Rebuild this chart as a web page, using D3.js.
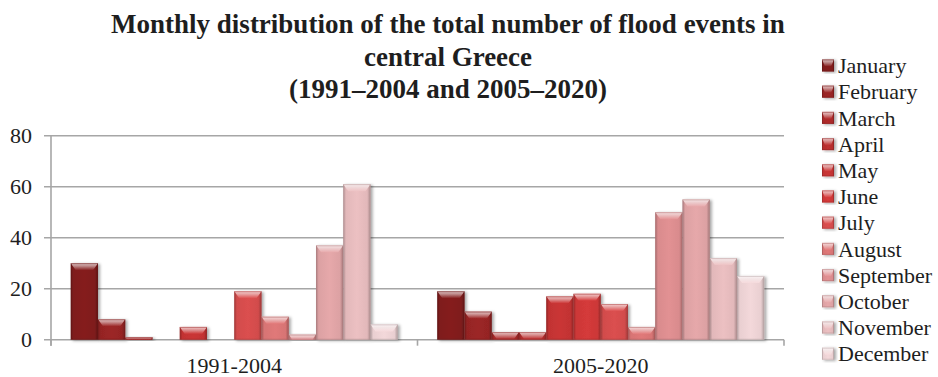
<!DOCTYPE html>
<html>
<head>
<meta charset="utf-8">
<script src="https://cdn.jsdelivr.net/npm/d3@7"></script>
<style>
  html, body { margin: 0; padding: 0; background: #fff; }
  svg { display: block; font-family: "Liberation Serif", "Times New Roman", serif; }
</style>
</head>
<body>
<script>
// Flood events per month, grouped by period
const periods = ["1991-2004", "2005-2020"];
const months = ["January", "February", "March", "April", "May", "June",
                "July", "August", "September", "October", "November", "December"];
const events1991_2004 = [30, 8, 1, 0, 5, 0, 19, 9, 2, 37, 61, 6];
const events2005_2020 = [19, 11, 3, 3, 17, 18, 14, 5, 50, 55, 32, 25];
const yTicks = [0, 20, 40, 60, 80];
const titleLines = ["Monthly distribution of the total number of flood events in",
                    "central Greece",
                    "(1991\u20132004 and 2005\u20132020)"];

// Red monochrome palette, darkest for January to palest for December
const monthColors = ["#7f1d1d", "#952424", "#a92a2a", "#b52e2e", "#c23333", "#cc3838",
                     "#d24c4c", "#d77474", "#d98b8d", "#dca1a3", "#e2b8ba", "#e9cfd1"];

const seriesByPeriod = { "1991-2004": events1991_2004, "2005-2020": events2005_2020 };

const W = 938, H = 377;
const plot = { left: 51, right: 784, top: 135.7, bottom: 339.7 };

const svg = d3.select("body").append("svg").attr("width", W).attr("height", H);
const defs = svg.append("defs");

// Soft shadow to the right of each bar
const shadow = defs.append("filter").attr("id", "barShadow")
  .attr("x", "-20%").attr("y", "-20%").attr("width", "150%").attr("height", "140%");
shadow.append("feDropShadow").attr("dx", 2).attr("dy", 1).attr("stdDeviation", 1.4)
  .attr("flood-color", "#000").attr("flood-opacity", 0.35);

// Bevel gradients per month
monthColors.forEach((c, i) => {
  const base = d3.color(c);
  const body = defs.append("linearGradient").attr("id", "body" + i)
    .attr("x1", "0%").attr("x2", "100%").attr("y1", "0%").attr("y2", "0%");
  [[0, base.darker(0.7)], [0.1, base], [0.5, base.brighter(0.12)], [0.88, base], [1, base.darker(0.8)]]
    .forEach(([o, col]) => body.append("stop").attr("offset", o).attr("stop-color", col));
  const cap = defs.append("linearGradient").attr("id", "cap" + i)
    .attr("x1", "0%").attr("x2", "0%").attr("y1", "0%").attr("y2", "100%");
  [[0, d3.interpolateRgb(c, "#fff")(0.75)], [0.45, d3.interpolateRgb(c, "#fff")(0.45)], [1, base.brighter(0.15)]]
    .forEach(([o, col]) => cap.append("stop").attr("offset", o).attr("stop-color", col));
});

const y = d3.scaleLinear().domain([0, 80]).range([plot.bottom, plot.top]);
const x0 = d3.scaleBand().domain(periods).range([plot.left, plot.right]);
const groupGap = 39.5;
const x1 = d3.scaleBand().domain(months).range([groupGap / 2, x0.bandwidth() - groupGap / 2]);

// Gridlines with left ticks
svg.append("g").selectAll("line").data(yTicks).join("line")
  .attr("x1", plot.left - 7).attr("x2", plot.right)
  .attr("y1", d => y(d)).attr("y2", d => y(d))
  .attr("stroke", "#a6a6a6").attr("stroke-width", 1.6);

// Value axis line
svg.append("line").attr("x1", plot.left).attr("x2", plot.left)
  .attr("y1", plot.top).attr("y2", plot.bottom + 6)
  .attr("stroke", "#a6a6a6").attr("stroke-width", 1.6);

// Category tick marks at group boundaries
const bounds = periods.map(p => x0(p)).concat([plot.right]);
svg.append("g").selectAll("line").data(bounds).join("line")
  .attr("x1", d => d).attr("x2", d => d)
  .attr("y1", plot.bottom).attr("y2", plot.bottom + 6)
  .attr("stroke", "#a6a6a6").attr("stroke-width", 1.6);

// Y tick labels
svg.append("g").selectAll("text").data(yTicks).join("text")
  .attr("x", 32).attr("y", d => y(d)).attr("dy", "0.35em")
  .attr("text-anchor", "end").attr("font-size", 22).attr("fill", "#1e1e1e")
  .text(d => d);

// Category labels
svg.append("g").selectAll("text").data(periods).join("text")
  .attr("x", d => x0(d) + x0.bandwidth() / 2).attr("y", 373)
  .attr("text-anchor", "middle").attr("font-size", 22).attr("fill", "#1e1e1e")
  .text(d => d);

// Draws one bevelled bar
function bevelBar(g, bx, by, bw, bh, i) {
  if (bh <= 0) return;
  const bar = g.append("g").attr("filter", "url(#barShadow)");
  bar.append("rect").attr("x", bx).attr("y", by).attr("width", bw).attr("height", bh)
    .attr("fill", `url(#body${i})`);
  const b = Math.min(7, bh);
  const inset = Math.min(5, bw / 4) * (b / 7);
  bar.append("path")
    .attr("d", `M${bx},${by}L${bx + bw},${by}L${bx + bw - inset},${by + b}L${bx + inset},${by + b}Z`)
    .attr("fill", `url(#cap${i})`);
  bar.append("rect").attr("x", bx + 0.5).attr("y", by + 0.5).attr("width", bw - 1).attr("height", bh - 1)
    .attr("fill", "none").attr("stroke", d3.color(monthColors[i]).darker(0.6)).attr("stroke-opacity", 0.5)
    .attr("stroke-width", 1);
}

// Bars
const barsG = svg.append("g");
periods.forEach(p => {
  seriesByPeriod[p].forEach((v, i) => {
    const bx = x0(p) + x1(months[i]);
    bevelBar(barsG, bx, y(v), x1.bandwidth(), y(0) - y(v), i);
  });
});

// Title
svg.append("g").selectAll("text").data(titleLines).join("text")
  .attr("x", 448).attr("y", (d, i) => 33 + i * 32.5)
  .attr("text-anchor", "middle").attr("font-size", 27).attr("font-weight", "bold")
  .attr("fill", "#1e1e1e").text(d => d);

// Legend
const legend = svg.append("g");
months.forEach((m, i) => {
  const cy = 65.5 + i * 26.2;
  bevelBar(legend, 822, cy - 6, 12, 12, i);
  legend.append("text").attr("x", 838).attr("y", cy).attr("dy", "0.35em")
    .attr("font-size", 22).attr("fill", "#1e1e1e").text(m);
});
</script>
</body>
</html>
